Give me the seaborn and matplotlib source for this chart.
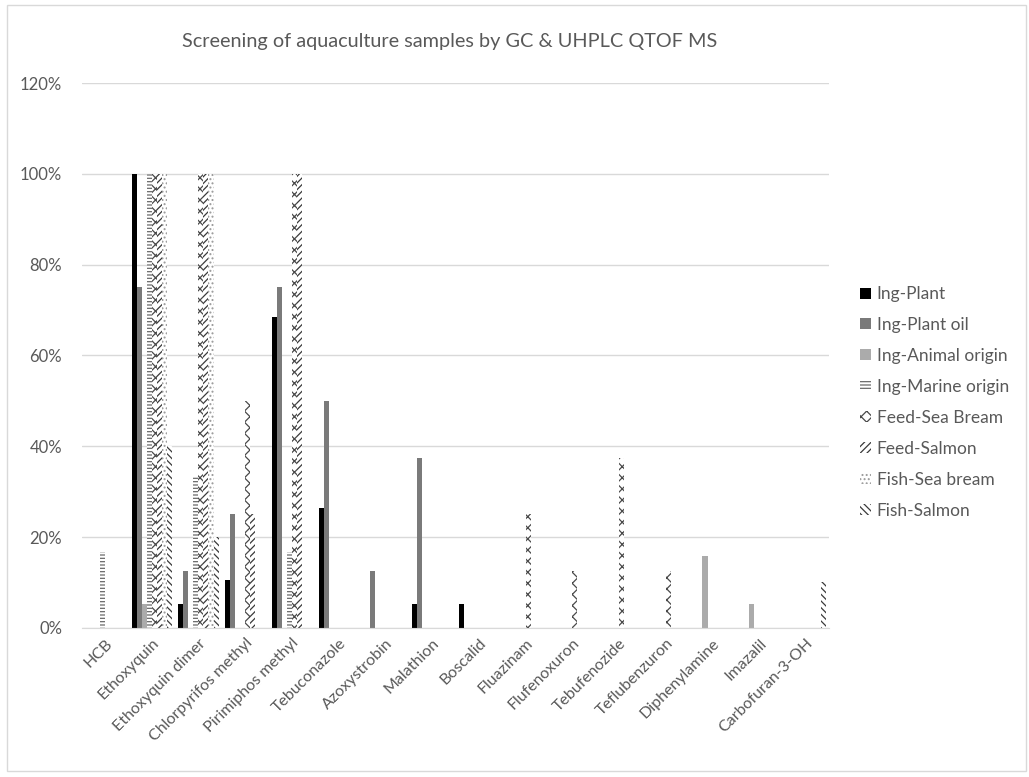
import matplotlib
matplotlib.use("Agg")
import matplotlib.pyplot as plt
from matplotlib.patches import Patch, Rectangle
from matplotlib.ticker import PercentFormatter
import seaborn as sns
import pandas as pd

categories = ["HCB", "Ethoxyquin", "Ethoxyquin dimer", "Chlorpyrifos methyl",
              "Pirimiphos methyl", "Tebuconazole", "Azoxystrobin", "Malathion",
              "Boscalid", "Fluazinam", "Flufenoxuron", "Tebufenozide",
              "Teflubenzuron", "Diphenylamine", "Imazalil", "Carbofuran-3-OH"]

series_names = ["Ing-Plant", "Ing-Plant oil", "Ing-Animal origin", "Ing-Marine origin",
                "Feed-Sea Bream", "Feed-Salmon", "Fish-Sea bream", "Fish-Salmon"]

ing_plant = [0, 1.00, 0.053, 0.105, 0.684, 0.263, 0, 0.053, 0.053, 0, 0, 0, 0, 0, 0, 0]
ing_plant_oil = [0, 0.75, 0.125, 0.25, 0.75, 0.50, 0.125, 0.375, 0, 0, 0, 0, 0, 0, 0, 0]
ing_animal = [0, 0.053, 0, 0, 0, 0, 0, 0, 0, 0, 0, 0, 0, 0.158, 0.053, 0]
ing_marine = [0.167, 1.00, 0.333, 0, 0.167, 0, 0, 0, 0, 0, 0, 0, 0, 0, 0, 0]
feed_sea_bream = [0, 1.00, 1.00, 0.50, 1.00, 0, 0, 0, 0, 0.25, 0.125, 0.375, 0.125, 0, 0, 0]
feed_salmon = [0, 1.00, 1.00, 0.25, 1.00, 0, 0, 0, 0, 0, 0, 0, 0, 0, 0, 0]
fish_sea_bream = [0, 1.00, 1.00, 0, 0, 0, 0, 0, 0, 0, 0, 0, 0, 0, 0, 0]
fish_salmon = [0, 0.40, 0.20, 0, 0, 0, 0, 0, 0, 0, 0, 0, 0, 0, 0, 0.10]

all_series = [ing_plant, ing_plant_oil, ing_animal, ing_marine,
              feed_sea_bream, feed_salmon, fish_sea_bream, fish_salmon]

rows = []
for name, vals in zip(series_names, all_series):
    for c, v in zip(categories, vals):
        rows.append({"Compound": c, "Series": name, "Value": v})
df = pd.DataFrame(rows)

# style per series: (facecolor, hatchcolor, hatch)
styles = [
    ("#000000", "#000000", None),
    ("#7a7a7a", "#7a7a7a", None),
    ("#ababab", "#ababab", None),
    ("#ffffff", "#6a6a6a", "-----"),
    ("#ffffff", "#4a4a4a", "xxx"),
    ("#ffffff", "#3a3a3a", "/////"),
    ("#ffffff", "#9a9a9a", "...."),
    ("#ffffff", "#3a3a3a", "\\\\\\\\\\"),
]

sns.set_style("white")
plt.rcParams["font.family"] = ["Lato", "DejaVu Sans"]
plt.rcParams["hatch.linewidth"] = 0.9

fig = plt.figure(figsize=(10.29, 7.77), dpi=100)
ax = fig.add_axes([0.0793, 0.192, 0.7267, 0.701])

palette = {n: s[0] for n, s in zip(series_names, styles)}
sns.barplot(data=df, x="Compound", y="Value", hue="Series", hue_order=series_names,
            order=categories, palette=palette, width=0.86, gap=0, ax=ax,
            errorbar=None, legend=False, saturation=1)

for cont, (fc, hc, h) in zip(ax.containers, styles):
    for p in cont:
        p.set_facecolor(fc)
        p.set_edgecolor(hc)
        p.set_linewidth(0)
        if h:
            p.set_hatch(h)

ax.set_ylim(0, 1.2)
ax.set_yticks([0, 0.2, 0.4, 0.6, 0.8, 1.0, 1.2])
ax.yaxis.set_major_formatter(PercentFormatter(1.0, decimals=0))
ax.set_xlim(-0.5, len(categories) - 0.5)
ax.grid(axis="y", color="#d9d9d9", linewidth=1)
ax.set_axisbelow(True)
for s in ["top", "right", "left"]:
    ax.spines[s].set_visible(False)
ax.spines["bottom"].set_color("#d9d9d9")
ax.tick_params(axis="both", length=0, colors="#595959")
ax.tick_params(axis="y", pad=14, labelsize=12)
ax.tick_params(axis="x", pad=6, labelsize=11.5)
plt.setp(ax.get_xticklabels(), rotation=45, ha="right", rotation_mode="anchor")
ax.set_xlabel("")
ax.set_ylabel("")

fig.text(0.437, 0.947, "Screening of aquaculture samples by GC & UHPLC QTOF MS",
         ha="center", va="center", fontsize=14.3, color="#595959")

handles = [Patch(facecolor=fc, edgecolor=hc, hatch=h, linewidth=0, label=n)
           for n, (fc, hc, h) in zip(series_names, styles)]
leg = ax.legend(handles=handles, loc="upper left", bbox_to_anchor=(1.032, 0.64),
                frameon=False, fontsize=12.5, labelcolor="#595959",
                handlelength=0.6, handleheight=0.6, handletextpad=0.35,
                labelspacing=0.86, borderaxespad=0)

fig.patches.append(Rectangle((0.007, 0.008), 0.99, 0.985, transform=fig.transFigure,
                             fill=False, edgecolor="#d9d9d9", linewidth=1))

fig.savefig("out.png", dpi=100)
